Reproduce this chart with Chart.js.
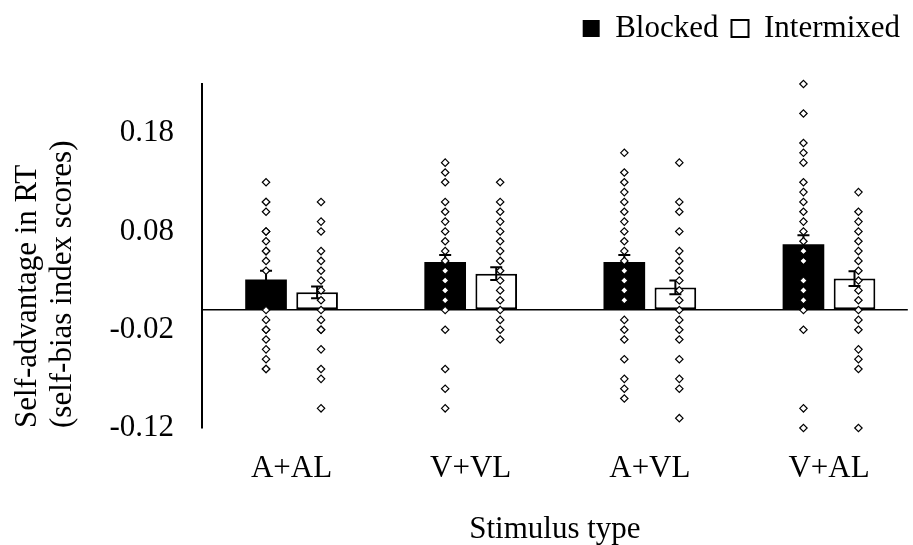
<!DOCTYPE html>
<html>
<head>
<meta charset="utf-8">
<script src="https://cdn.jsdelivr.net/npm/chart.js@4.4.1/dist/chart.umd.min.js"></script>
<style>
html, body { margin: 0; padding: 0; background: #fff; }
#wrap { width: 913px; height: 545px; }
</style>
</head>
<body>
<div id="wrap"><canvas id="grafico"></canvas></div>
<script>
const categorias = ['A+AL', 'V+VL', 'A+VL', 'V+AL'];
const ticksY = [-0.12, -0.02, 0.08, 0.18];

// medias e erro padrao
const mediaBlocked = [0.031, 0.049, 0.049, 0.067];
const erroBlocked = [0.009, 0.007, 0.007, 0.009];
const mediaIntermixed = [0.018, 0.037, 0.023, 0.032];
const erroIntermixed = [0.006, 0.0065, 0.007, 0.0075];

// pontos individuais
const aalBlocked = [0.13, 0.11, 0.11, 0.10, 0.08, 0.08, 0.07, 0.06, 0.06, 0.05, 0.04, 0.00, -0.01, -0.02, -0.02, -0.03, -0.04, -0.05, -0.06, -0.06];
const aalIntermixed = [0.11, 0.09, 0.08, 0.06, 0.05, 0.04, 0.03, 0.02, 0.01, 0.00, -0.01, -0.02, -0.02, -0.04, -0.06, -0.07, -0.10];
const vvlBlocked = [0.15, 0.14, 0.13, 0.11, 0.10, 0.09, 0.08, 0.07, 0.06, 0.05, 0.04, 0.03, 0.02, 0.01, 0.00, -0.02, -0.06, -0.08, -0.10];
const vvlIntermixed = [0.13, 0.11, 0.10, 0.09, 0.08, 0.07, 0.06, 0.05, 0.04, 0.03, 0.02, 0.01, 0.00, -0.01, -0.02, -0.03];
const avlBlocked = [0.16, 0.14, 0.13, 0.12, 0.11, 0.10, 0.09, 0.08, 0.07, 0.06, 0.05, 0.04, 0.03, 0.02, 0.01, -0.01, -0.02, -0.03, -0.05, -0.07, -0.08, -0.09];
const avlIntermixed = [0.15, 0.11, 0.10, 0.08, 0.06, 0.05, 0.04, 0.03, 0.02, 0.01, 0.00, -0.01, -0.02, -0.03, -0.05, -0.07, -0.08, -0.11];
const valBlocked = [0.23, 0.20, 0.17, 0.16, 0.15, 0.13, 0.12, 0.11, 0.10, 0.09, 0.08, 0.07, 0.06, 0.05, 0.03, 0.02, 0.01, 0.00, -0.02, -0.10, -0.12];
const valIntermixed = [0.12, 0.10, 0.09, 0.08, 0.07, 0.06, 0.05, 0.04, 0.03, 0.02, 0.01, 0.00, -0.01, -0.02, -0.04, -0.05, -0.06, -0.12];

const pontosBlocked = [aalBlocked, vvlBlocked, avlBlocked, valBlocked];
const pontosIntermixed = [aalIntermixed, vvlIntermixed, avlIntermixed, valIntermixed];

const fonte = { family: '"Liberation Serif", "Times New Roman", serif', size: 31 };
const desloc = 0.1425; // metade da largura de cada barra no grupo

function montarPontos(listas, dx) {
    const saida = [];
    listas.forEach(function (lista, i) {
        lista.forEach(function (v) { saida.push({ x: i + dx, y: v }); });
    });
    return saida;
}

// barras de erro desenhadas logo depois de cada serie de barras
const barrasErro = {
    id: 'barrasErro',
    afterDatasetDraw(chart, args) {
        const ds = chart.data.datasets[args.index];
        if (!ds.erros) return;
        const ctx = chart.ctx;
        const y = chart.scales.y;
        ctx.save();
        ctx.strokeStyle = '#000';
        ctx.lineWidth = 2;
        args.meta.data.forEach(function (bar, i) {
            const m = ds.data[i].y;
            const topo = y.getPixelForValue(m + ds.erros[i]);
            const base = y.getPixelForValue(m - ds.erros[i]);
            ctx.beginPath();
            ctx.moveTo(bar.x, topo); ctx.lineTo(bar.x, base);
            ctx.moveTo(bar.x - 6, topo); ctx.lineTo(bar.x + 6, topo);
            ctx.moveTo(bar.x - 6, base); ctx.lineTo(bar.x + 6, base);
            ctx.stroke();
        });
        ctx.restore();
    }
};

// espaco extra abaixo da legenda
const alturaLegenda = {
    id: 'alturaLegenda',
    afterInit(chart) {
        const leg = chart.legend;
        if (!leg) return;
        const fitOriginal = leg.fit;
        leg.fit = function () {
            fitOriginal.call(this);
            this.height += 30;
        };
    }
};

new Chart(document.getElementById('grafico'), {
    data: {
        datasets: [{
            type: 'bar',
            label: 'Blocked',
            data: categorias.map(function (c, i) { return { x: i, y: mediaBlocked[i] }; }),
            erros: erroBlocked,
            backgroundColor: '#000',
            borderColor: '#000',
            borderWidth: 0,
            categoryPercentage: 0.57,
            barPercentage: 0.816,
            order: 2
        }, {
            type: 'bar',
            label: 'Intermixed',
            data: categorias.map(function (c, i) { return { x: i, y: mediaIntermixed[i] }; }),
            erros: erroIntermixed,
            backgroundColor: '#fff',
            borderColor: '#000',
            borderWidth: 2,
            borderSkipped: false,
            categoryPercentage: 0.57,
            barPercentage: 0.816,
            order: 2
        }, {
            type: 'scatter',
            label: 'pontos blocked',
            data: montarPontos(pontosBlocked, -desloc),
            pointStyle: 'rectRot',
            pointRadius: 3.7,
            pointBorderWidth: 1.2,
            pointBackgroundColor: '#fff',
            pointBorderColor: '#000',
            clip: false,
            order: 1
        }, {
            type: 'scatter',
            label: 'pontos intermixed',
            data: montarPontos(pontosIntermixed, desloc + 0.022),
            pointStyle: 'rectRot',
            pointRadius: 3.7,
            pointBorderWidth: 1.2,
            pointBackgroundColor: '#fff',
            pointBorderColor: '#000',
            clip: false,
            order: 1
        }]
    },
    options: {
        responsive: true,
        maintainAspectRatio: false,
        animation: false,
        events: [],
        layout: { padding: 0 },
        plugins: {
            legend: {
                position: 'top',
                align: 'end',
                labels: {
                    filter: function (item) { return item.datasetIndex < 2; },
                    boxWidth: 17,
                    boxHeight: 17,
                    padding: 13,
                    color: '#000',
                    font: fonte
                }
            },
            tooltip: { enabled: false }
        },
        scales: {
            x: {
                type: 'linear',
                offset: false,
                min: -0.5,
                max: 3.44,
                afterBuildTicks: function (s) {
                    s.ticks = categorias.map(function (c, i) { return { value: i }; });
                },
                afterFit: function (s) { s.height = 117; },
                ticks: {
                    callback: function (v) { return categorias[v]; },
                    color: '#000',
                    font: fonte,
                    padding: 22,
                    autoSkip: false,
                    maxRotation: 0
                },
                grid: { display: false, drawTicks: false, offset: false },
                border: { display: false },
                title: {
                    display: true,
                    text: 'Stimulus type',
                    color: '#000',
                    font: Object.assign({}, fonte, { lineHeight: 1 }),
                    padding: { top: 0, bottom: 0 }
                }
            },
            y: {
                min: -0.12,
                max: 0.23,
                afterBuildTicks: function (s) {
                    s.ticks = ticksY.concat([0]).map(function (v) { return { value: v }; });
                },
                afterFit: function (s) { s.width = 202; },
                ticks: {
                    callback: function (v) { return v === 0 ? '' : v.toFixed(2); },
                    color: '#000',
                    font: fonte,
                    padding: 28
                },
                grid: {
                    drawTicks: false,
                    color: function (ctx) { return ctx.tick && ctx.tick.value === 0 ? '#000' : 'rgba(0,0,0,0)'; },
                    lineWidth: 1.5
                },
                border: { display: true, color: '#000', width: 2 },
                title: {
                    display: true,
                    text: ['Self-advantage in RT', '(self-bias index scores)'],
                    align: 'start',
                    color: '#000',
                    font: Object.assign({}, fonte, { lineHeight: 1.13 }),
                    padding: { top: 10.5, bottom: 0 }
                }
            }
        }
    },
    plugins: [barrasErro, alturaLegenda]
});
</script>
</body>
</html>
